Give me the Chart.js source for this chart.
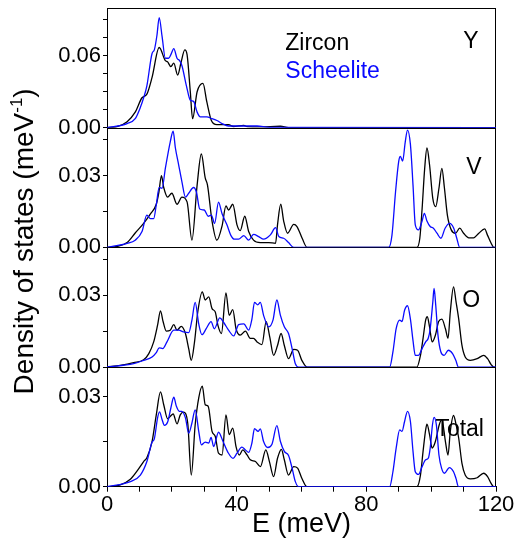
<!DOCTYPE html>
<html>
<head>
<meta charset="utf-8">
<script src="https://cdn.jsdelivr.net/npm/chart.js@4/dist/chart.umd.min.js"></script>
<style>
  html, body { margin: 0; padding: 0; background: #fff; }
  #wrap { position: relative; width: 515px; height: 541px; }
</style>
</head>
<body>
<div id="wrap"><canvas id="c" width="515" height="541"></canvas></div>
<script>
// ---------- DATA (E in meV, DOS in meV^-1) ----------
const xTickLabels = [0, 40, 80, 120];
const yTicksY = [0, 0.06];
const yTicksV = [0, 0.03];
const yTicksO = [0, 0.03];
const yTicksT = [0, 0.03];
const panelNames = ['Y', 'V', 'O', 'Total'];
const seriesNames = ['Zircon', 'Scheelite'];

// Y panel
const E_Y_zircon = [0, 3.1, 6.2, 8.7, 10.8, 12.3, 13.9, 16.1, 18, 18.7, 19.7, 20.6, 21.8, 22.8, 24, 24.7, 25.7, 26.4, 27.8, 29.6, 30.8, 32.2, 33.9, 37.5, 39, 42.2, 43.2, 47.3, 53.5, 56, 120];
const D_Y_zircon = [0, 0.0008, 0.005, 0.013, 0.025, 0.028, 0.042, 0.067, 0.056, 0.055, 0.051, 0.054, 0.044, 0.054, 0.065, 0.061, 0.030, 0.0075, 0.030, 0.037, 0.0215, 0.006, 0.0025, 0.0025, 0.001, 0.002, 0.0008, 0.0006, 0.0012, 0, 0];
const E_Y_scheelite = [0, 6.2, 8.7, 10.3, 11.3, 12.3, 13.9, 14.6, 15.4, 16.1, 17, 18, 19, 19.7, 20.6, 21.6, 22.4, 23.1, 24.5, 25.7, 26.7, 27.8, 28.8, 30.8, 32.4, 33.9, 35.5, 37.5, 46.3, 50, 120];
const D_Y_scheelite = [0, 0.0034, 0.0075, 0.017, 0.025, 0.035, 0.062, 0.065, 0.077, 0.092, 0.076, 0.058, 0.058, 0.061, 0.066, 0.058, 0.056, 0.052, 0.035, 0.023, 0.022, 0.013, 0.009, 0.009, 0.0075, 0.006, 0.0034, 0.0014, 0.0014, 0.0003, 0];

// V panel
const E_V_zircon = [0, 3.1, 6.2, 8.7, 11.3, 13.4, 15.2, 16, 16.8, 17.5, 18.7, 20, 21.6, 23.1, 24.7, 26.2, 27.8, 29.1, 30.3, 31, 32.4, 33.9, 35.5, 36.7, 37.5, 38.8, 40.1, 41.1, 42.5, 43.7, 45.2, 47.3, 49.9, 52, 52.6, 53.6, 54.5, 55.7, 57.6, 58.6, 60.2, 61.7, 95.6, 96.5, 97.2, 98, 98.7, 99.5, 100.5, 101.4, 102.4, 103.3, 104.1, 105, 106.2, 107.5, 108.8, 110, 111.6, 113.1, 114.7, 116.5, 117.4, 118.5, 119.3, 120];
const D_V_zircon = [0, 0.0004, 0.002, 0.006, 0.010, 0.014, 0.018, 0.023, 0.030, 0.025, 0.021, 0.0226, 0.018, 0.021, 0.019, 0.003, 0.026, 0.039, 0.029, 0.026, 0.011, 0.003, 0.009, 0.0173, 0.0156, 0.018, 0.0094, 0.007, 0.013, 0.0066, 0.003, 0.002, 0.002, 0.0017, 0.0094, 0.018, 0.011, 0.0059, 0.0096, 0.0087, 0.0038, 0, 0, 0.0038, 0.016, 0.033, 0.0415, 0.0345, 0.0205, 0.017, 0.0247, 0.033, 0.0247, 0.0135, 0.0073, 0.0059, 0.008, 0.0059, 0.004, 0.004, 0.0059, 0.0077, 0.005, 0.0017, 0, 0];
const E_V_scheelite = [0, 6.2, 8.7, 10.8, 12.3, 13.4, 14.4, 15.2, 16.1, 17, 18, 19.5, 20.4, 21.1, 22.1, 23.1, 24.2, 25.2, 26.7, 27.6, 28.6, 30, 31.2, 32.2, 33.2, 34.4, 35.5, 37, 38.2, 39.3, 40.6, 42.2, 43.7, 45.2, 46.8, 48.3, 50.4, 52, 53, 54.5, 56, 57.6, 86.9, 87.9, 89, 90, 90.5, 91.2, 92, 92.7, 93.6, 94.4, 95.1, 96.1, 97.2, 97.9, 98.7, 99.7, 100.7, 101.8, 103, 104.3, 105.7, 106.9, 107.9, 108.8, 120];
const D_V_scheelite = [0, 0.0017, 0.003, 0.0066, 0.0135, 0.012, 0.012, 0.0177, 0.025, 0.0247, 0.033, 0.044, 0.0485, 0.0415, 0.0345, 0.0275, 0.021, 0.0226, 0.025, 0.023, 0.016, 0.0156, 0.013, 0.0135, 0.010, 0.0189, 0.014, 0.0094, 0.005, 0.0034, 0.0034, 0.0049, 0.003, 0.0054, 0.0045, 0.0034, 0.0052, 0.0082, 0.0045, 0.0038, 0.002, 0, 0, 0.005, 0.023, 0.036, 0.038, 0.036, 0.044, 0.049, 0.043, 0.026, 0.0094, 0.0073, 0.011, 0.0142, 0.011, 0.0087, 0.008, 0.0059, 0.0038, 0.008, 0.010, 0.0082, 0.0038, 0, 0];

// O panel
const E_O_zircon = [0, 4.1, 8.2, 11.3, 12.9, 14.4, 15.6, 16.5, 17.3, 18.3, 19.5, 20.6, 21.6, 22.9, 24.2, 25.2, 26, 27, 28, 29.4, 30.3, 31.4, 32.4, 33.4, 34.2, 35.3, 36.7, 37.7, 38.8, 39.8, 41.1, 42.7, 44.2, 45.2, 46.3, 47.8, 49.1, 50.2, 51.4, 52.6, 53.7, 54.7, 56, 57.6, 58.8, 60.1, 61.7, 95.6, 96.7, 97.5, 98.3, 98.8, 99.5, 100.3, 101.3, 102.3, 103.3, 104.4, 105.2, 105.9, 106.9, 107.7, 108.5, 109.5, 110.5, 112.1, 114.2, 116.2, 117.4, 118.5, 119.3, 120];
const D_O_zircon = [0, 0.0007, 0.0018, 0.003, 0.0056, 0.0105, 0.0175, 0.0235, 0.019, 0.015, 0.0154, 0.0177, 0.0154, 0.017, 0.014, 0.0077, 0.0028, 0.0105, 0.023, 0.0314, 0.028, 0.0293, 0.0244, 0.023, 0.0175, 0.014, 0.031, 0.0216, 0.024, 0.016, 0.0133, 0.015, 0.012, 0.012, 0.0105, 0.0094, 0.019, 0.0126, 0.0049, 0.009, 0.014, 0.009, 0.0035, 0.0074, 0.007, 0.0028, 0, 0, 0.0049, 0.012, 0.0196, 0.021, 0.0168, 0.0105, 0.0133, 0.019, 0.020, 0.016, 0.012, 0.023, 0.0335, 0.027, 0.020, 0.009, 0.0042, 0.0028, 0.0035, 0.0049, 0.0035, 0.001, 0, 0];
const E_O_scheelite = [0, 8.2, 11.3, 13.9, 15.2, 16.1, 17.2, 18.5, 20.6, 22.1, 23.6, 25.2, 26.2, 27.2, 28.3, 29.3, 30.6, 32.1, 33.1, 34.8, 36, 37.5, 39.1, 40.6, 42.2, 43.7, 44.7, 45.5, 46.5, 47.3, 48.3, 49.9, 51.2, 52.4, 53.5, 54.7, 56, 57.1, 58.1, 59.1, 87.2, 88.2, 89.2, 90.3, 91, 91.8, 92.7, 93.6, 94.4, 95.1, 96.1, 97.2, 98.3, 99.1, 99.7, 100.5, 100.9, 101.4, 102.1, 103, 104, 105.3, 106.6, 107.6, 108.4, 120];
const D_O_scheelite = [0, 0.0014, 0.0028, 0.0042, 0.006, 0.008, 0.0077, 0.0105, 0.0154, 0.0154, 0.0147, 0.0144, 0.0196, 0.027, 0.018, 0.0135, 0.016, 0.019, 0.016, 0.0205, 0.0186, 0.0154, 0.013, 0.0177, 0.018, 0.0154, 0.020, 0.027, 0.026, 0.027, 0.0216, 0.0168, 0.0196, 0.028, 0.0216, 0.0168, 0.014, 0.0077, 0.0014, 0, 0, 0.0063, 0.016, 0.0196, 0.019, 0.0237, 0.0256, 0.020, 0.011, 0.0049, 0.0049, 0.0077, 0.0105, 0.012, 0.016, 0.027, 0.0328, 0.026, 0.0133, 0.0063, 0.0049, 0.007, 0.0056, 0.0028, 0, 0];

// Total panel
const E_T_zircon = [0, 4.1, 7.2, 9.3, 11.3, 12.3, 13.9, 15.2, 16.5, 17.5, 18.7, 19.5, 20.4, 21.6, 22.6, 23.6, 24.9, 26, 27.2, 28.3, 29.4, 30.3, 31.2, 32.4, 33.4, 34.4, 35.5, 36.7, 37.7, 38.8, 39.8, 40.8, 41.9, 43.2, 44.2, 45.8, 47.3, 49, 50.1, 51.4, 52.6, 53.8, 54.7, 56, 57.6, 58.8, 60.1, 61.7, 95.6, 96.7, 97.5, 98.3, 98.7, 99.5, 100.3, 101.3, 102.5, 103.3, 104.4, 105.2, 105.9, 106.9, 107.7, 108.5, 109.5, 110.5, 112.1, 114.2, 116.2, 117.4, 118.5, 119.3, 120];
const D_T_zircon = [0, 0.0006, 0.0025, 0.0053, 0.0084, 0.0097, 0.0151, 0.024, 0.0317, 0.0274, 0.0227, 0.0235, 0.0243, 0.021, 0.024, 0.0249, 0.0213, 0.0039, 0.0207, 0.0297, 0.0336, 0.0274, 0.0269, 0.0185, 0.0168, 0.0112, 0.0106, 0.024, 0.0174, 0.0196, 0.0134, 0.0106, 0.0123, 0.0106, 0.009, 0.0084, 0.0067, 0.0123, 0.0084, 0.0034, 0.0095, 0.0125, 0.009, 0.0039, 0.0067, 0.0062, 0.0028, 0, 0, 0.0039, 0.0118, 0.019, 0.0209, 0.0174, 0.0129, 0.0151, 0.0207, 0.0224, 0.0151, 0.0106, 0.0185, 0.0238, 0.0207, 0.0162, 0.0078, 0.0039, 0.0026, 0.003, 0.0045, 0.0034, 0.0011, 0, 0];
const E_T_scheelite = [0, 7.2, 10.3, 12.3, 13.9, 14.6, 15.6, 16.2, 17, 17.7, 18.7, 19.7, 20.6, 21.4, 22.3, 23.1, 24.2, 25.2, 26.2, 27.2, 28.3, 29.1, 30.3, 31.4, 32.1, 32.9, 34.4, 35.8, 37.3, 38.9, 40.1, 41.6, 42.7, 43.7, 44.7, 45.5, 46.6, 47.3, 48.3, 49.6, 50.9, 52.4, 53.5, 54.7, 56, 57.1, 58.1, 59.1, 87.2, 88.2, 89.2, 90.3, 91, 91.8, 92.7, 93.6, 94.4, 95.1, 96.1, 97.2, 98.3, 99.1, 99.7, 100.4, 100.9, 101.6, 102.4, 103.2, 104.1, 105.6, 106.9, 107.7, 108.4, 120];
const D_T_scheelite = [0, 0.0017, 0.0039, 0.0084, 0.0149, 0.016, 0.023, 0.025, 0.0224, 0.0205, 0.0216, 0.0263, 0.0299, 0.0269, 0.0252, 0.0252, 0.023, 0.0179, 0.0213, 0.0257, 0.0185, 0.014, 0.0149, 0.0146, 0.0165, 0.0134, 0.0182, 0.0151, 0.0115, 0.0095, 0.0112, 0.0132, 0.0123, 0.0115, 0.0146, 0.0194, 0.0185, 0.0193, 0.0151, 0.0131, 0.0142, 0.0204, 0.0151, 0.0118, 0.0104, 0.0062, 0.0017, 0, 0, 0.005, 0.0129, 0.019, 0.0185, 0.0218, 0.0252, 0.0218, 0.0118, 0.005, 0.0041, 0.0067, 0.009, 0.0095, 0.0129, 0.0207, 0.0232, 0.0207, 0.0106, 0.0062, 0.0045, 0.0064, 0.005, 0.0026, 0, 0];

// ---------- helpers ----------
const FONT = "'Liberation Sans', Arial, Helvetica, sans-serif";
const BLACK = '#000000';
const BLUE = '#0a0aff';
const zip = (xs, ys) => xs.map((x, i) => ({ x: x, y: ys[i] }));

function ds(label, xs, ys, color, axis) {
  return {
    label: label,
    data: zip(xs, ys),
    yAxisID: axis,
    borderColor: color,
    backgroundColor: color,
    borderWidth: 1.3,
    pointRadius: 0,
    pointHoverRadius: 0,
    cubicInterpolationMode: 'monotone',
    fill: false
  };
}

function yAxis(max, labelVals) {
  return {
    type: 'linear',
    position: 'left',
    stack: 'panels',
    stackWeight: 1,
    min: 0,
    max: max,
    afterFit: (s) => { s.width = 107; s.paddingTop = 0; s.paddingBottom = 0; },
    border: { display: true, color: BLACK, width: 1 },
    grid: { display: true, drawOnChartArea: false, drawTicks: true, tickLength: 4, color: BLACK, tickColor: BLACK },
    ticks: {
      stepSize: 0.015,
      includeBounds: false,
      autoSkip: false,
      padding: 2,
      color: BLACK,
      font: { family: FONT, size: 22 },
      callback: (v) => labelVals.some(t => Math.abs(t - v) < 1e-6) ? Number(v).toFixed(2) : ''
    }
  };
}

// Panel labels and legend text, anchored in data coordinates
const annotations = [
  { text: seriesNames[0], color: BLACK, axis: 'yY', x: 55, y: 0.0648 },
  { text: seriesNames[1], color: BLUE, axis: 'yY', x: 55, y: 0.0419 },
  { text: panelNames[0], color: BLACK, axis: 'yY', x: 109.9, y: 0.0667 },
  { text: panelNames[1], color: BLACK, axis: 'yV', x: 110.8, y: 0.0307 },
  { text: panelNames[2], color: BLACK, axis: 'yO', x: 109.6, y: 0.0251 },
  { text: panelNames[3], color: BLACK, axis: 'yT', x: 101.3, y: 0.017 }
];

const framePlugin = {
  id: 'frame',
  beforeDatasetsDraw(chart) {
    const { ctx, chartArea: a } = chart;
    ctx.save();
    ctx.strokeStyle = BLACK;
    ctx.lineWidth = 1;
    ctx.beginPath();
    ctx.moveTo(a.left, a.top + 0.5);
    ctx.lineTo(a.right, a.top + 0.5);
    ctx.moveTo(a.right - 0.5, a.top);
    ctx.lineTo(a.right - 0.5, a.bottom);
    ['yY', 'yV', 'yO'].forEach(id => {
      const py = Math.round(chart.scales[id].getPixelForValue(0)) + 0.5;
      ctx.moveTo(a.left, py);
      ctx.lineTo(a.right, py);
    });
    ctx.stroke();
    ctx.restore();
  },
  afterDraw(chart) {
    const { ctx } = chart;
    ctx.save();
    // annotations
    ctx.textBaseline = 'alphabetic';
    ctx.textAlign = 'left';
    ctx.font = `23px ${FONT}`;
    annotations.forEach(an => {
      ctx.fillStyle = an.color;
      ctx.fillText(an.text, chart.scales.x.getPixelForValue(an.x), chart.scales[an.axis].getPixelForValue(an.y));
    });
    // y title with superscript
    const a = chart.chartArea;
    const main1 = 'Density of states (meV';
    const sup = '-1';
    const main2 = ')';
    ctx.font = `28px ${FONT}`;
    const w1 = ctx.measureText(main1).width;
    const w3 = ctx.measureText(main2).width;
    ctx.font = `17px ${FONT}`;
    const w2 = ctx.measureText(sup).width;
    const total = w1 + w2 + w3;
    ctx.translate(33, (a.top + a.bottom) / 2 - 6);
    ctx.rotate(-Math.PI / 2);
    ctx.fillStyle = BLACK;
    const start = -total / 2;
    ctx.font = `28px ${FONT}`;
    ctx.fillText(main1, start, 0);
    ctx.font = `17px ${FONT}`;
    ctx.fillText(sup, start + w1, -11);
    ctx.font = `28px ${FONT}`;
    ctx.fillText(main2, start + w1 + w2, 0);
    ctx.restore();
  }
};

const chart = new Chart(document.getElementById('c'), {
  type: 'line',
  data: {
    datasets: [
      ds(seriesNames[1], E_Y_scheelite, D_Y_scheelite, BLUE, 'yY'),
      ds(seriesNames[0], E_Y_zircon, D_Y_zircon, BLACK, 'yY'),
      ds(seriesNames[1], E_V_scheelite, D_V_scheelite, BLUE, 'yV'),
      ds(seriesNames[0], E_V_zircon, D_V_zircon, BLACK, 'yV'),
      ds(seriesNames[1], E_O_scheelite, D_O_scheelite, BLUE, 'yO'),
      ds(seriesNames[0], E_O_zircon, D_O_zircon, BLACK, 'yO'),
      ds(seriesNames[1], E_T_scheelite, D_T_scheelite, BLUE, 'yT'),
      ds(seriesNames[0], E_T_zircon, D_T_zircon, BLACK, 'yT')
    ]
  },
  options: {
    responsive: false,
    animation: false,
    events: [],
    layout: { padding: { top: 8, right: 19, left: 0, bottom: 0 } },
    plugins: { legend: { display: false }, tooltip: { enabled: false } },
    scales: {
      x: {
        type: 'linear',
        position: 'bottom',
        min: 0,
        max: 120,
        afterFit: (s) => { s.height = 54.3; },
        border: { display: true, color: BLACK, width: 1 },
        grid: { display: true, drawOnChartArea: false, drawTicks: true, tickLength: 5, color: BLACK, tickColor: BLACK },
        ticks: {
          stepSize: 10,
          autoSkip: false,
          maxRotation: 0,
          padding: 0,
          color: BLACK,
          font: { family: FONT, size: 22 },
          callback: (v) => xTickLabels.includes(v) ? String(v) : ''
        },
        title: { display: true, text: 'E (meV)', color: BLACK, font: { family: FONT, size: 27 }, padding: { top: 0, bottom: 0 } }
      },
      yT: yAxis(0.04, yTicksT),
      yO: yAxis(0.05, yTicksO),
      yV: yAxis(0.05, yTicksV),
      yY: yAxis(0.1, yTicksY)
    }
  },
  plugins: [framePlugin]
});
</script>
</body>
</html>
